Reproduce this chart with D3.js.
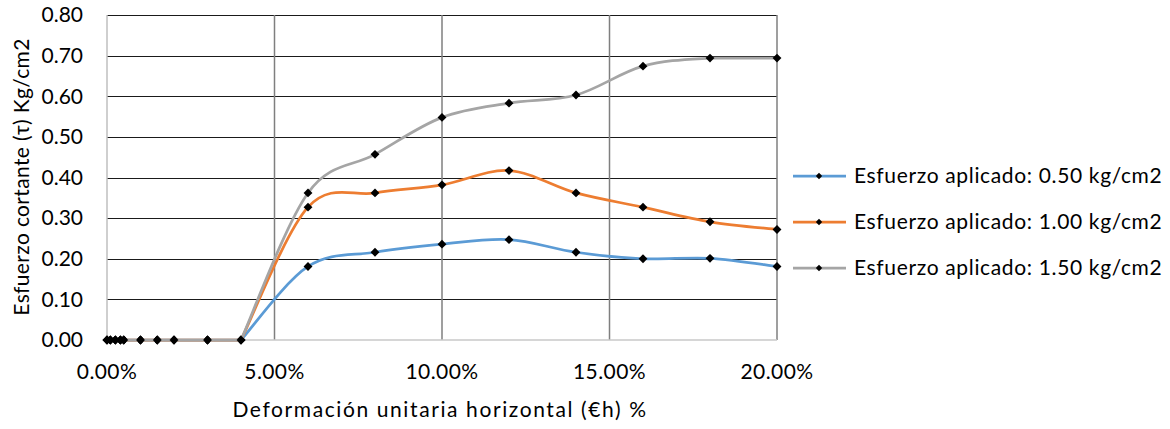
<!DOCTYPE html>
<html>
<head>
<meta charset="utf-8">
<script src="https://cdn.jsdelivr.net/npm/d3@7"></script>
<style>
  html, body { margin: 0; padding: 0; background: #fff; }
  svg { display: block; }
  text { font-family: Lato, "Open Sans", sans-serif; fill: #000; }
</style>
</head>
<body>
<svg id="chart" width="1170" height="429"></svg>
<script>
// Horizontal strain (fraction) at each reading
const strain = [0, 0.001, 0.0025, 0.004, 0.005, 0.01, 0.015, 0.02, 0.03, 0.04,
                0.06, 0.08, 0.10, 0.12, 0.14, 0.16, 0.18, 0.20];

// Shear stress (kg/cm2) for each applied normal stress
const shear050 = [0, 0, 0, 0, 0, 0, 0, 0, 0, 0,
                  0.181, 0.216, 0.236, 0.247, 0.216, 0.200, 0.201, 0.181];
const shear100 = [0, 0, 0, 0, 0, 0, 0, 0, 0, 0,
                  0.327, 0.362, 0.382, 0.417, 0.362, 0.327, 0.291, 0.272];
const shear150 = [0, 0, 0, 0, 0, 0, 0, 0, 0, 0,
                  0.362, 0.457, 0.548, 0.583, 0.603, 0.674, 0.694, 0.694];

const seriesNames = ["Esfuerzo aplicado: 0.50 kg/cm2",
                     "Esfuerzo aplicado: 1.00 kg/cm2",
                     "Esfuerzo aplicado: 1.50 kg/cm2"];
const seriesColors = ["#5B9BD5", "#ED7D31", "#A5A5A5"];

const xTicks = [0, 0.05, 0.10, 0.15, 0.20];
const yTicks = [0, 0.1, 0.2, 0.3, 0.4, 0.5, 0.6, 0.7, 0.8];

const xTitle = "Deformación unitaria horizontal (€h) %";
const yTitle = "Esfuerzo cortante  (τ) Kg/cm2";

// Smoothed line curve: uniform Catmull-Rom Bézier segments,
// with flat runs kept straight so the curve never dips below them.
function SmoothFlat(context) { this._context = context; }
SmoothFlat.prototype = {
  areaStart() { this._line = 0; },
  areaEnd() { this._line = NaN; },
  lineStart() { this._pts = []; },
  point(x, y) { this._pts.push([+x, +y]); },
  lineEnd() {
    const p = this._pts, c = this._context, n = p.length;
    if (!n) return;
    c.moveTo(p[0][0], p[0][1]);
    for (let i = 0; i < n - 1; i++) {
      const p0 = p[i - 1] || p[i], p1 = p[i], p2 = p[i + 1], p3 = p[i + 2] || p[i + 1];
      if (p1[1] === p2[1] && (p0[1] === p1[1] || p3[1] === p2[1])) {
        c.lineTo(p2[0], p2[1]);
        continue;
      }
      const fromFlat = p0[1] === p1[1] && i > 0;
      const c1x = fromFlat ? p1[0] + (p2[0] - p1[0]) / 6 : p1[0] + (p2[0] - p0[0]) / 6;
      const c1y = fromFlat ? p1[1] + (p2[1] - p1[1]) / 6 : p1[1] + (p2[1] - p0[1]) / 6;
      const c2x = p2[0] - (p3[0] - p1[0]) / 6;
      const c2y = p2[1] - (p3[1] - p1[1]) / 6;
      c.bezierCurveTo(c1x, c1y, c2x, c2y, p2[0], p2[1]);
    }
  }
};
const curveSmoothFlat = context => new SmoothFlat(context);

const svg = d3.select("#chart");
const plotLeft = 107, plotRight = 777, plotTop = 15, plotBottom = 340;

const x = d3.scaleLinear().domain([0, 0.20]).range([plotLeft, plotRight]);
const y = d3.scaleLinear().domain([0, 0.80]).range([plotBottom, plotTop]);

// Horizontal gridlines
svg.append("g").selectAll("line")
  .data(yTicks.filter(d => d > 0))
  .join("line")
  .attr("x1", plotLeft).attr("x2", plotRight)
  .attr("y1", d => Math.round(y(d)) + 0.5).attr("y2", d => Math.round(y(d)) + 0.5)
  .attr("stroke", "#1a1a1a").attr("stroke-width", 1);

// Vertical gridlines
svg.append("g").selectAll("line")
  .data(xTicks.filter(d => d > 0))
  .join("line")
  .attr("x1", d => x(d)).attr("x2", d => x(d))
  .attr("y1", plotTop).attr("y2", plotBottom)
  .attr("stroke", "#7f7f7f").attr("stroke-width", 1.5);

// Axis lines
svg.append("line").attr("x1", plotLeft).attr("x2", plotLeft).attr("y1", plotTop).attr("y2", plotBottom)
  .attr("stroke", "#bfbfbf").attr("stroke-width", 1.5);
svg.append("line").attr("x1", plotLeft).attr("x2", plotRight).attr("y1", plotBottom).attr("y2", plotBottom)
  .attr("stroke", "#c8c8c8").attr("stroke-width", 1.5);

// Tick labels
const fmtY = d3.format(".2f");
const fmtX = d3.format(".2%");
svg.append("g").selectAll("text")
  .data(yTicks).join("text")
  .attr("x", 83).attr("y", d => y(d))
  .attr("dy", "0.35em")
  .attr("text-anchor", "end")
  .style("font-size", "21px")
  .text(d => fmtY(d));

svg.append("g").selectAll("text")
  .data(xTicks).join("text")
  .attr("x", d => x(d)).attr("y", 379)
  .attr("text-anchor", "middle")
  .style("font-size", "21px")
  .style("letter-spacing", "0.4px")
  .text(d => fmtX(d));

// Axis titles
svg.append("text")
  .attr("x", 440).attr("y", 417)
  .attr("text-anchor", "middle")
  .style("font-size", "21px")
  .style("letter-spacing", "1.6px")
  .text(xTitle);

svg.append("text")
  .attr("transform", "translate(29,177) rotate(-90)")
  .attr("text-anchor", "middle")
  .style("font-size", "21px")
  .style("letter-spacing", "0.35px")
  .text(yTitle);

// Series lines and markers
const allSeries = [shear050, shear100, shear150];
const line = d3.line()
  .x((d, i) => x(strain[i]))
  .y(d => y(d))
  .curve(curveSmoothFlat);

const diamond = d3.symbol().type(d3.symbolDiamond2).size(50);

allSeries.forEach((vals, s) => {
  const g = svg.append("g");
  g.append("path")
    .datum(vals)
    .attr("d", line)
    .attr("fill", "none")
    .attr("stroke", seriesColors[s])
    .attr("stroke-width", 2.75)
    .attr("stroke-linejoin", "round");
  g.selectAll("path.mk")
    .data(vals).join("path")
    .attr("class", "mk")
    .attr("transform", (d, i) => `translate(${x(strain[i])},${y(d)})`)
    .attr("d", diamond)
    .attr("fill", "#000");
});

// Legend
const legend = svg.append("g");
seriesNames.forEach((name, s) => {
  const ly = 176 + s * 46;
  legend.append("line")
    .attr("x1", 793).attr("x2", 846).attr("y1", ly).attr("y2", ly)
    .attr("stroke", seriesColors[s]).attr("stroke-width", 2.75);
  legend.append("path")
    .attr("transform", `translate(819,${ly})`)
    .attr("d", d3.symbol().type(d3.symbolDiamond2).size(26))
    .attr("fill", "#000");
  legend.append("text")
    .attr("x", 854).attr("y", ly).attr("dy", "0.35em")
    .style("font-size", "21px")
    .style("letter-spacing", "0.65px")
    .text(name);
});
</script>
</body>
</html>
